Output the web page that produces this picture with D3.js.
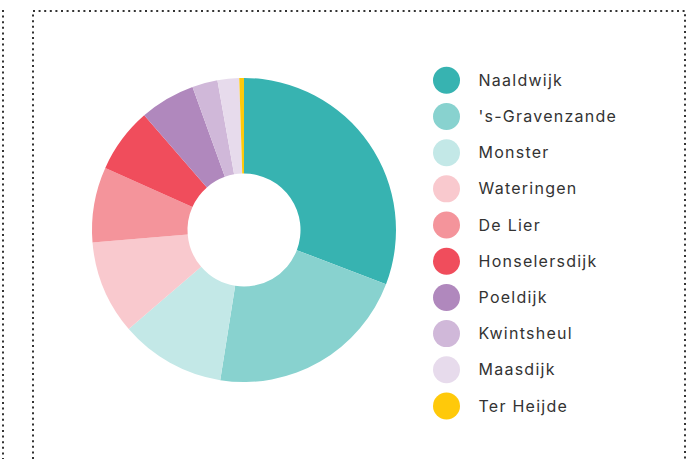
<!DOCTYPE html>
<html>
<head>
<meta charset="utf-8">
<script src="https://cdn.jsdelivr.net/npm/d3@7"></script>
<style>
    body { margin: 0; background: #fff; }
    #chart { width: 700px; height: 459px; }
    .legend-label { font-family: Inter, 'Noto Sans', sans-serif; font-size: 16px; letter-spacing: 1.25px; fill: #333; }
</style>
</head>
<body>
<div id="chart"></div>
<script>
//Datos
const dorpen = ['Naaldwijk', "'s-Gravenzande", 'Monster', 'Wateringen', 'De Lier', 'Honselersdijk', 'Poeldijk', 'Kwintsheul', 'Maasdijk', 'Ter Heijde'];
const aandeel = [30.8, 21.7, 11.2, 10.0, 8.0, 6.9, 5.9, 2.7, 2.3, 0.5];
const kleuren = ['#37b3b1', '#88d2cf', '#c3e8e7', '#f9c9ce', '#f4949b', '#f04d5c', '#b088bd', '#d0b8d9', '#e7dbec', '#ffc90a'];

let width = 700, height = 459;

let svg = d3.select('#chart')
    .append('svg')
    .attr('width', width)
    .attr('height', height);

//Borde punteado
let border = svg.append('g')
    .attr('fill', 'none')
    .attr('stroke', '#333')
    .attr('stroke-width', 2)
    .attr('stroke-dasharray', '2,3.6');

border.append('line').attr('x1', 3).attr('y1', 10).attr('x2', 3).attr('y2', height);
border.append('path').attr('d', 'M33,' + height + 'V11H685V' + height);

//Donut
let color = d3.scaleOrdinal()
    .domain(dorpen)
    .range(kleuren);

let pie = d3.pie()
    .sort(null)
    .value(function(d) { return d.value; });

let arc = d3.arc()
    .innerRadius(56.5)
    .outerRadius(152);

let data = dorpen.map(function(d, i) { return { name: d, value: aandeel[i] }; });

svg.append('g')
    .attr('transform', 'translate(244,230)')
    .selectAll('path')
    .data(pie(data))
    .enter()
    .append('path')
    .attr('d', arc)
    .attr('fill', function(d) { return color(d.data.name); });

//Leyenda
let y = d3.scalePoint()
    .domain(dorpen)
    .range([80.3, 406]);

let legend = svg.append('g')
    .selectAll('g')
    .data(dorpen)
    .enter()
    .append('g')
    .attr('transform', function(d) { return 'translate(446.5,' + y(d) + ')'; });

legend.append('circle')
    .attr('r', 13.5)
    .attr('fill', function(d) { return color(d); });

legend.append('text')
    .attr('class', 'legend-label')
    .attr('x', 32)
    .attr('y', 5.6)
    .text(function(d) { return d; });
</script>
</body>
</html>
